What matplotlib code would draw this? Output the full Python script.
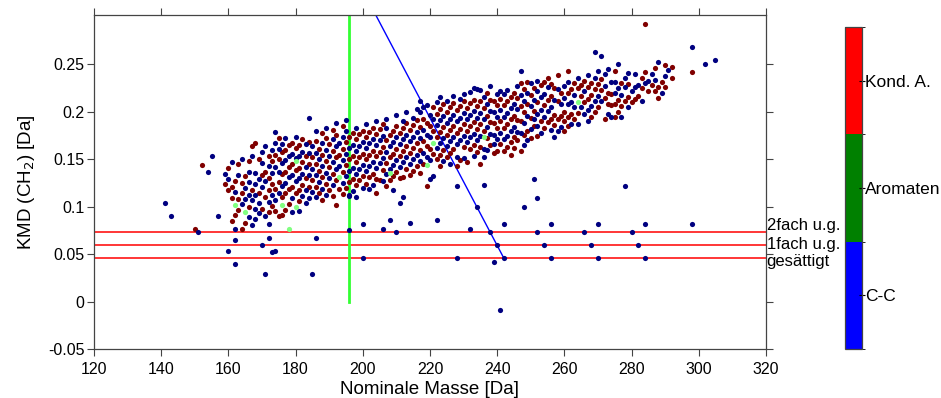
import matplotlib
matplotlib.use("Agg")
import matplotlib.pyplot as plt
import matplotlib as mpl
import numpy as np

plt.rcParams['font.family'] = ['Liberation Sans', 'DejaVu Sans']

# (nominal mass, KMD)
red_points = [
 (150,.077),(152,.144),
 (159,.124),(160,.141),(160,.118),(161,.121),(161,.109),(161,.085),
 (162,.127),(162,.091),(163,.145),(163,.108),(163,.097),
 (164,.125),(164,.114),(164,.077),(165,.132),(165,.083),
 (166,.148),(166,.100),(167,.164),(167,.118),(168,.167),
 (169,.150),(169,.115),(170,.133),(170,.098),(171,.137),(171,.110),
 (172,.154),(172,.118),(172,.130),(172,.094),
 (173,.148),(173,.124),(173,.101),(174,.155),(174,.119),(174,.096),
 (175,.172),(175,.150),(175,.126),(175,.090),(176,.158),(176,.134),(176,.110),(176,.091),
 (177,.160),(177,.137),(177,.114),(177,.097),(178,.165),(178,.142),(178,.119),(178,.1025),
 (179,.167),(179,.145),(179,.121),(180,.162),(180,.139),(180,.115),
 (181,.165),(181,.141),(181,.118),(181,.106),(182,.171),(182,.147),(182,.123),
 (183,.154),(183,.130),(184,.168),(184,.145),(184,.121),(185,.152),(185,.128),
 (186,.169),(186,.145),(186,.121),(187,.161),(187,.138),(187,.114),
 (188,.178),(188,.155),(188,.131),(188,.107),(189,.172),(189,.148),(189,.124),
 (190,.166),(190,.142),(190,.118),(191,.181),(191,.159),(191,.135),(191,.111),
 (192,.176),(192,.152),(192,.128),(192,.102),(193,.155),(193,.119),
 (194,.185),(194,.161),(194,.137),(194,.113),(195,.168),(195,.144),(195,.120),
 (196,.174),(196,.150),(196,.126),(197,.178),(197,.153),(197,.129),
 (198,.171),(198,.147),(198,.123),(199,.177),(199,.152),(199,.128),
 (200,.180),(200,.156),(200,.132),(201,.174),(201,.150),(201,.124),
 (202,.179),(202,.155),(202,.131),(203,.183),(203,.159),(203,.135),
 (204,.177),(204,.153),(204,.129),(204,.115),(205,.182),(205,.158),(205,.128),
 (206,.187),(206,.163),(206,.139),(207,.170),(207,.146),(207,.122),
 (208,.176),(208,.152),(208,.128),(209,.180),(209,.156),(209,.132),
 (210,.185),(210,.161),(210,.137),(211,.178),(211,.154),(211,.130),
 (212,.183),(212,.159),(212,.131),(213,.188),(213,.164),(213,.140),
 (214,.181),(214,.157),(214,.133),(215,.186),(215,.162),(215,.138),
 (216,.191),(216,.167),(216,.143),(217,.184),(217,.160),(217,.136),
 (218,.193),(218,.169),(218,.145),(219,.188),(219,.164),(219,.122),
 (220,.185),(220,.161),(221,.205),(221,.180),(221,.156),
 (222,.198),(222,.174),(222,.150),(223,.203),(223,.179),(223,.155),(223,.143),
 (224,.208),(224,.184),(224,.160),(225,.200),(225,.176),(225,.152),
 (226,.205),(226,.181),(226,.157),(227,.209),(227,.185),(227,.161),
 (228,.202),(228,.178),(228,.143),(229,.206),(229,.182),(229,.149),
 (230,.211),(230,.187),(230,.163),(231,.204),(231,.180),(231,.147),
 (232,.209),(232,.185),(232,.161),(233,.213),(233,.189),(233,.165),
 (234,.206),(234,.182),(234,.158),(235,.211),(235,.187),(235,.163),(235,.145),
 (236,.204),(236,.180),(237,.220),(237,.196),(237,.172),
 (238,.213),(238,.189),(238,.165),(239,.212),(239,.188),(239,.157),
 (240,.207),(240,.183),(240,.159),(241,.214),(241,.190),(241,.166),
 (242,.207),(242,.183),(242,.159),(243,.211),(243,.187),(243,.163),
 (244,.216),(244,.192),(244,.168),(244,.155),(245,.220),(245,.196),(245,.173),(245,.162),
 (246,.215),(246,.191),(246,.170),(247,.230),(247,.206),(247,.190),(247,.159),
 (248,.224),(248,.200),(248,.176),(249,.231),(249,.208),(249,.180),
 (250,.218),(250,.194),(250,.172),(251,.225),(251,.201),(251,.185),
 (252,.210),(252,.175),(253,.228),(253,.190),(254,.231),(254,.207),(254,.183),
 (255,.236),(255,.213),(255,.189),(256,.229),(256,.217),(256,.193),
 (257,.225),(257,.197),(257,.186),(258,.239),(258,.212),(258,.192),
 (259,.220),(259,.196),(260,.200),(260,.190),(260,.180),
 (261,.243),(261,.220),(261,.195),(261,.185),(262,.224),(262,.198),
 (263,.230),(263,.193),(264,.225),(264,.199),(265,.228),(265,.217),
 (266,.233),(266,.210),(267,.226),(267,.214),(268,.230),(268,.218),(268,.195),
 (269,.224),(269,.200),(270,.229),(270,.205),(271,.223),(271,.235),
 (272,.215),(272,.192),(273,.220),(273,.208),(274,.219),(274,.207),
 (275,.243),(275,.208),(275,.195),(276,.213),(276,.200),(277,.230),(277,.206),
 (278,.212),(279,.229),(279,.216),(280,.210),(281,.214),(282,.217),
 (283,.236),(283,.225),(284,.293),(284,.242),(285,.222),(286,.228),
 (287,.246),(287,.222),(288,.226),(288,.215),(289,.232),
 (290,.249),(290,.226),(292,.236),(292,.247),(298,.242),
]

blue_points = [
 (141,.1036),(143,.090),(151,.073),(154,.137),(155,.154),(157,.090),
 (160,.0536),(160,.129),(162,.077),(162,.065),(162,.040),(170,.0596),(171,.0286),
 (172,.082),(172,.067),(173,.052),(174,.053),(185,.0286),(186,.067),
 (196,.075),(196,.111),(198,.110),(200,.082),(200,.046),(206,.077),(208,.086),
 (210,.073),(211,.104),(212,.110),(214,.083),(222,.086),(228,.046),(228,.122),
 (232,.077),(234,.100),(236,.123),(238,.073),(239,.042),(240,.060),(241,-.0085),
 (242,.082),(242,.046),(248,.100),(251,.129),(252,.109),(252,.073),(254,.060),
 (256,.082),(256,.046),(266,.073),(268,.060),(270,.082),(270,.046),(278,.122),
 (280,.073),(282,.060),(284,.082),(284,.046),(298,.082),
 (159,.135),(161,.147),(162,.116),(163,.133),(164,.150),(164,.103),
 (165,.120),(165,.108),(166,.137),(166,.126),(166,.112),(166,.089),
 (167,.154),(167,.107),(167,.081),(168,.136),(168,.124),(168,.112),(168,.098),(168,.087),
 (169,.129),(169,.104),(169,.093),(170,.158),(170,.146),(170,.121),
 (171,.164),(171,.127),(171,.090),(172,.143),(172,.105),
 (173,.160),(173,.136),(173,.112),(174,.179),(174,.167),(174,.142),(174,.107),
 (175,.161),(175,.137),(175,.114),(176,.166),(176,.146),(176,.122),
 (177,.172),(177,.149),(177,.125),(178,.154),(178,.131),
 (179,.156),(179,.133),(179,.109),(179,.094),(180,.174),(180,.151),(180,.127),
 (181,.153),(181,.130),(181,.095),(182,.158),(182,.135),(182,.111),
 (183,.166),(183,.142),(183,.118),(183,.104),(184,.194),(184,.157),(184,.133),(184,.109),
 (185,.164),(185,.140),(185,.116),(186,.180),(186,.157),(186,.133),(186,.110),
 (187,.150),(187,.126),(188,.167),(188,.143),(188,.119),
 (189,.183),(189,.160),(189,.136),(189,.112),(190,.154),(190,.130),
 (191,.171),(191,.147),(191,.123),(192,.188),(192,.164),(192,.140),
 (193,.167),(193,.143),(194,.173),(194,.149),(194,.125),
 (195,.191),(195,.180),(195,.156),(195,.132),(196,.162),(196,.138),(196,.112),
 (197,.165),(197,.141),(197,.117),(198,.183),(198,.159),(198,.135),
 (199,.164),(199,.140),(200,.168),(200,.144),(200,.120),
 (201,.187),(201,.162),(201,.138),(202,.167),(202,.143),(202,.119),
 (203,.171),(203,.147),(203,.123),(204,.190),(204,.165),(204,.141),
 (205,.170),(205,.146),(206,.175),(206,.151),(206,.127),
 (207,.193),(207,.183),(207,.158),(207,.134),(208,.164),(208,.140),
 (209,.168),(209,.144),(209,.118),(210,.197),(210,.173),(210,.149),
 (211,.166),(211,.142),(212,.190),(212,.171),(212,.147),
 (213,.200),(213,.176),(213,.152),(214,.169),(214,.145),
 (215,.194),(215,.174),(215,.150),(216,.203),(216,.179),(216,.155),
 (217,.211),(217,.200),(217,.172),(217,.148),(218,.205),(218,.181),(218,.157),
 (219,.207),(219,.176),(219,.152),(220,.197),(220,.173),(220,.149),(220,.129),
 (221,.193),(221,.132),(222,.210),(222,.186),(222,.162),
 (223,.216),(223,.191),(223,.167),(224,.196),(224,.172),(224,.148),
 (225,.212),(225,.188),(225,.164),(226,.193),(226,.169),(226,.145),
 (227,.217),(227,.197),(227,.173),(228,.190),(228,.166),(228,.152),
 (229,.214),(229,.194),(229,.170),(230,.219),(230,.199),(230,.175),(230,.151),
 (231,.192),(231,.168),(232,.221),(232,.197),(232,.173),
 (233,.225),(233,.201),(233,.177),(233,.153),(234,.224),(234,.194),(234,.170),
 (235,.223),(235,.199),(235,.175),(236,.216),(236,.192),(236,.161),(236,.152),
 (237,.208),(237,.184),(237,.160),(238,.227),(238,.201),(238,.177),
 (239,.200),(239,.176),(239,.166),(240,.219),(240,.195),(240,.171),
 (241,.222),(241,.202),(241,.178),(242,.219),(242,.195),(242,.171),
 (243,.223),(243,.199),(243,.175),(244,.204),(244,.180),(245,.208),(245,.184),
 (246,.227),(246,.203),(246,.179),(247,.243),(247,.218),(247,.178),
 (248,.212),(248,.188),(248,.165),(249,.220),(249,.196),(249,.170),
 (250,.230),(250,.206),(250,.182),(251,.213),(251,.193),
 (252,.233),(252,.222),(252,.198),(252,.185),(253,.216),(253,.202),(253,.178),
 (254,.219),(254,.195),(255,.226),(255,.201),(256,.205),(256,.181),
 (257,.213),(257,.174),(258,.224),(258,.180),(259,.208),(259,.184),
 (260,.227),(260,.215),(261,.232),(261,.208),(262,.210),(262,.187),
 (263,.218),(263,.205),(264,.236),(264,.187),(265,.205),(266,.222),(266,.198),
 (267,.239),(267,.202),(267,.190),(268,.206),(269,.263),(269,.236),(269,.212),
 (270,.243),(270,.217),(271,.259),(271,.211),(272,.240),(272,.227),
 (273,.245),(273,.198),(274,.232),(274,.195),(275,.232),(275,.220),
 (276,.250),(276,.225),(277,.218),(277,.195),(278,.236),(278,.226),
 (279,.241),(279,.205),(280,.222),(281,.240),(281,.226),(282,.228),
 (283,.212),(284,.230),(285,.233),(286,.240),(287,.234),(288,.253),
 (289,.220),(290,.238),(291,.244),(298,.268),(302,.251),(305,.255),
]

green_points = [
 (162,.1015),(165,.0945),(176,.1015),(178,.077),(180,.100),(180,.148),
 (193,.131),(208,.136),(219,.1445),(221,.1677),(236,.1734),(264,.210),
]

# reference lines
dbe_levels = [0.0729, 0.0599, 0.0455]
dbe_labels = ['2fach u.g.', '1fach u.g.', 'gesättigt']
dbe_label_y = [0.080, 0.0603, 0.0425]
vline_mass = 196
vline_kmd = [0.0, 0.31]
diag_mass = [203, 242]
diag_kmd = [0.308, 0.0458]

xticks = [120, 140, 160, 180, 200, 220, 240, 260, 280, 300, 320]
yticks = [-0.05, 0, 0.05, 0.1, 0.15, 0.2, 0.25]
ytick_labels = ['-0.05', '0', '0.05', '0.1', '0.15', '0.2', '0.25']

cb_labels = ['C-C', 'Aromaten', 'Kond. A.']
cb_colors = ['#0000ff', '#008000', '#ff0000']

fig = plt.figure(figsize=(9.41, 3.98), dpi=100)
ax = fig.add_axes([0.0999, 0.123, 0.714, 0.839])

for y in dbe_levels:
    ax.axhline(y, color='#ff0000', lw=1.1, zorder=1)
ax.plot([vline_mass, vline_mass], vline_kmd, color='#33ff33', lw=2, zorder=1)
ax.plot(diag_mass, diag_kmd, color='#0000ff', lw=1, zorder=1)

rm, rk = zip(*red_points)
bm, bk = zip(*blue_points)
gm, gk = zip(*green_points)
ax.scatter(rm, rk, s=14, color='#800000', linewidths=0, zorder=3)
ax.scatter(bm, bk, s=14, color='#000080', linewidths=0, zorder=3)
ax.scatter(gm, gk, s=14, color='#80ff80', linewidths=0, zorder=4)

for y, lab in zip(dbe_label_y, dbe_labels):
    ax.text(320.2, y, lab, ha='left', va='center', fontsize=12, clip_on=False)

ax.set_xlim(120, 320)
ax.set_ylim(-0.05, 0.302)
ax.set_xticks(xticks)
ax.set_yticks(yticks)
ax.set_yticklabels(ytick_labels)
ax.tick_params(direction='out', length=5, width=0.8, color='#444444',
               top=True, right=True, labelsize=11.5, pad=2)
ax.tick_params(axis='x', pad=4)
for sp in ax.spines.values():
    sp.set_color('#444444')
    sp.set_linewidth(0.9)
ax.set_xlabel('Nominale Masse [Da]', fontsize=13.5, labelpad=3)
ax.set_ylabel('KMD (CH$_2$) [Da]', fontsize=13.5, labelpad=8)

cax = fig.add_axes([0.898, 0.123, 0.018, 0.809])
cmap = mpl.colors.ListedColormap(cb_colors)
norm = mpl.colors.BoundaryNorm([0, 1, 2, 3], cmap.N)
cb = mpl.colorbar.ColorbarBase(cax, cmap=cmap, norm=norm, ticks=[0.5, 1.5, 2.5])
cb.set_ticklabels(cb_labels)
cb.outline.set_edgecolor('#444444')
cb.outline.set_linewidth(0.9)
cax.tick_params(direction='inout', length=5, width=0.8, labelsize=12.5, pad=0)

fig.savefig('out.png', dpi=100)
